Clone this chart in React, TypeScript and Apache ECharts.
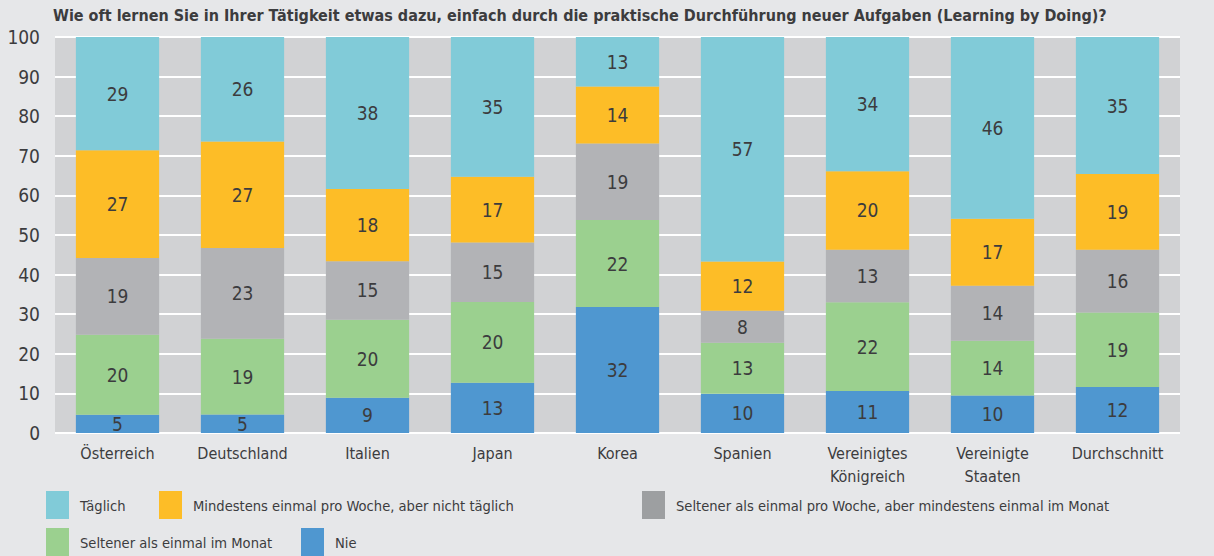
import React, { useEffect, useRef } from "react";
import * as echarts from "echarts";

const title =
  "Wie oft lernen Sie in Ihrer Tätigkeit etwas dazu, einfach durch die praktische Durchführung neuer Aufgaben (Learning by Doing)?";

const categories = [
  "Österreich",
  "Deutschland",
  "Italien",
  "Japan",
  "Korea",
  "Spanien",
  "Vereinigtes\nKönigreich",
  "Vereinigte\nStaaten",
  "Durchschnitt",
];

const seriesNames = [
  "Täglich",
  "Mindestens einmal pro Woche, aber nicht täglich",
  "Seltener als einmal pro Woche, aber mindestens einmal im Monat",
  "Seltener als einmal im Monat",
  "Nie",
];

const nie = [4.6, 4.7, 8.9, 12.7, 31.8, 9.9, 10.6, 9.5, 11.6];
const seltenerMonat = [20.2, 19.1, 19.7, 20.4, 22.0, 12.9, 22.4, 13.8, 18.8];
const seltenerWoche = [19.4, 22.9, 14.8, 15.0, 19.3, 8.1, 13.3, 13.9, 15.9];
const mindestensWoche = [27.2, 26.9, 18.2, 16.6, 14.4, 12.4, 19.8, 16.9, 19.1];
const taeglich = [28.6, 26.4, 38.4, 35.3, 12.5, 56.7, 33.9, 45.9, 34.6];

const yTicks = [0, 10, 20, 30, 40, 50, 60, 70, 80, 90, 100];

const FONT = "'DejaVu Sans Condensed', 'Liberation Sans Narrow', sans-serif";
const TEXT = "#3c3c3e";

export default function App() {
  const ref = useRef<HTMLDivElement>(null);

  useEffect(() => {
    if (!ref.current) return;
    const chart = echarts.init(ref.current, undefined, { renderer: "svg" });

    const stacks = [
      { name: seriesNames[4], data: nie, color: "#4f97d0" },
      { name: seriesNames[3], data: seltenerMonat, color: "#9bd08f" },
      { name: seriesNames[2], data: seltenerWoche, color: "#b2b3b6" },
      { name: seriesNames[1], data: mindestensWoche, color: "#fdbd27" },
      { name: seriesNames[0], data: taeglich, color: "#81cbd8" },
    ];

    const legendColors: Record<string, string> = {
      [seriesNames[0]]: "#81cbd8",
      [seriesNames[1]]: "#fdbd27",
      [seriesNames[2]]: "#9d9fa1",
      [seriesNames[3]]: "#9bd08f",
      [seriesNames[4]]: "#4f97d0",
    };

    const legendPos = [
      { name: seriesNames[0], left: 46, top: 491 },
      { name: seriesNames[1], left: 159, top: 491 },
      { name: seriesNames[2], left: 642, top: 491 },
      { name: seriesNames[3], left: 46, top: 528 },
      { name: seriesNames[4], left: 301, top: 528 },
    ];

    chart.setOption({
      animation: false,
      backgroundColor: "#e6e7e9",
      title: {
        text: title,
        left: 53,
        top: 7,
        padding: 0,
        textStyle: {
          fontFamily: FONT,
          fontWeight: "bold",
          fontSize: 16,
          color: TEXT,
        },
      },
      legend: legendPos.map((l) => ({
        left: l.left,
        top: l.top,
        padding: 0,
        orient: "horizontal",
        itemWidth: 23,
        itemHeight: 28,
        icon: "rect",
        selectedMode: false,
        textStyle: {
          fontFamily: FONT,
          fontSize: 14.6,
          color: TEXT,
          padding: [0, 0, 0, 6],
        },
        data: [{ name: l.name, itemStyle: { color: legendColors[l.name] } }],
      })),
      grid: {
        left: 55,
        right: 34,
        top: 37,
        bottom: 123,
        show: true,
        backgroundColor: "#d1d2d4",
        borderWidth: 0,
      },
      xAxis: {
        type: "category",
        data: categories,
        axisLine: { show: false },
        axisTick: { show: false },
        axisLabel: {
          fontFamily: FONT,
          fontSize: 16,
          color: TEXT,
          margin: 9,
          lineHeight: 23,
          verticalAlign: "top",
          interval: 0,
        },
      },
      yAxis: {
        type: "value",
        min: yTicks[0],
        max: yTicks[yTicks.length - 1],
        interval: 10,
        axisLine: { show: false },
        axisTick: { show: false },
        axisLabel: {
          fontFamily: FONT,
          fontSize: 19,
          color: TEXT,
          margin: 15,
        },
        splitLine: { show: true, lineStyle: { color: "#ffffff", width: 2 } },
      },
      series: stacks.map((s) => ({
        name: s.name,
        type: "bar",
        stack: "total",
        data: s.data,
        barCategoryGap: "33.4%",
        itemStyle: { color: s.color },
        label: {
          show: true,
          position: "inside",
          fontFamily: FONT,
          fontSize: 19,
          color: TEXT,
          formatter: (p: any) => String(Math.round(p.value)),
        },
      })),
    });

    return () => chart.dispose();
  }, []);

  return (
    <div
      ref={ref}
      style={{ position: "fixed", left: 0, top: 0, width: 1214, height: 556 }}
    />
  );
}
